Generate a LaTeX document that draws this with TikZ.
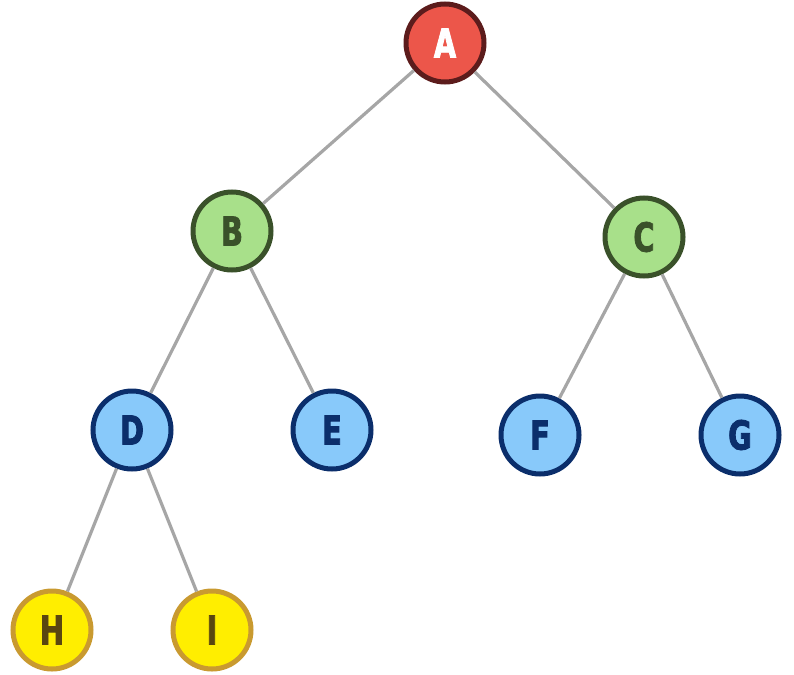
\documentclass[tikz,border=0pt]{standalone}
\usepackage{fontspec}
\newfontfamily\nodefont{DejaVu Sans Condensed Bold}[FakeBold=2,FakeStretch=0.8]
\definecolor{redfill}{HTML}{EC564A}
\definecolor{redline}{HTML}{5C1C1C}
\definecolor{grnfill}{HTML}{A8E08A}
\definecolor{grnline}{HTML}{3A512A}
\definecolor{bluefill}{HTML}{88C9FA}
\definecolor{blueline}{HTML}{0B2E6B}
\definecolor{yelfill}{HTML}{FFEE00}
\definecolor{yelline}{HTML}{C99A30}
\definecolor{yeltext}{HTML}{5A4610}
\definecolor{edgegray}{HTML}{A6A6A6}
\begin{document}
\begin{tikzpicture}[x=1pt,y=-1pt,
  tnode/.style={circle,minimum size=78pt,inner sep=0pt,line width=5pt,
    font=\nodefont\fontsize{40}{40}\selectfont},
  rootnode/.style={tnode,fill=redfill,draw=redline,text=white},
  midnode/.style={tnode,fill=grnfill,draw=grnline,text=grnline},
  lownode/.style={tnode,fill=bluefill,draw=blueline,text=blueline},
  leafnode/.style={tnode,fill=yelfill,draw=yelline,text=yeltext},
  edge/.style={draw=edgegray,line width=3.2pt}]
\useasboundingbox (0,0) rectangle (794,674);
\node[rootnode] (A) at (445,43) {A};
\node[midnode] (B) at (232,231) {B};
\node[midnode] (C) at (644,237) {C};
\node[lownode] (D) at (132,430) {D};
\node[lownode] (E) at (332,430) {E};
\node[lownode] (F) at (540,435) {F};
\node[lownode] (G) at (740,435) {G};
\node[leafnode] (H) at (52,630) {H};
\node[leafnode] (I) at (212,630) {I};
\path[edge] (A) -- (B);
\path[edge] (A) -- (C);
\path[edge] (B) -- (D);
\path[edge] (B) -- (E);
\path[edge] (C) -- (F);
\path[edge] (C) -- (G);
\path[edge] (D) -- (H);
\path[edge] (D) -- (I);
\end{tikzpicture}
\end{document}
